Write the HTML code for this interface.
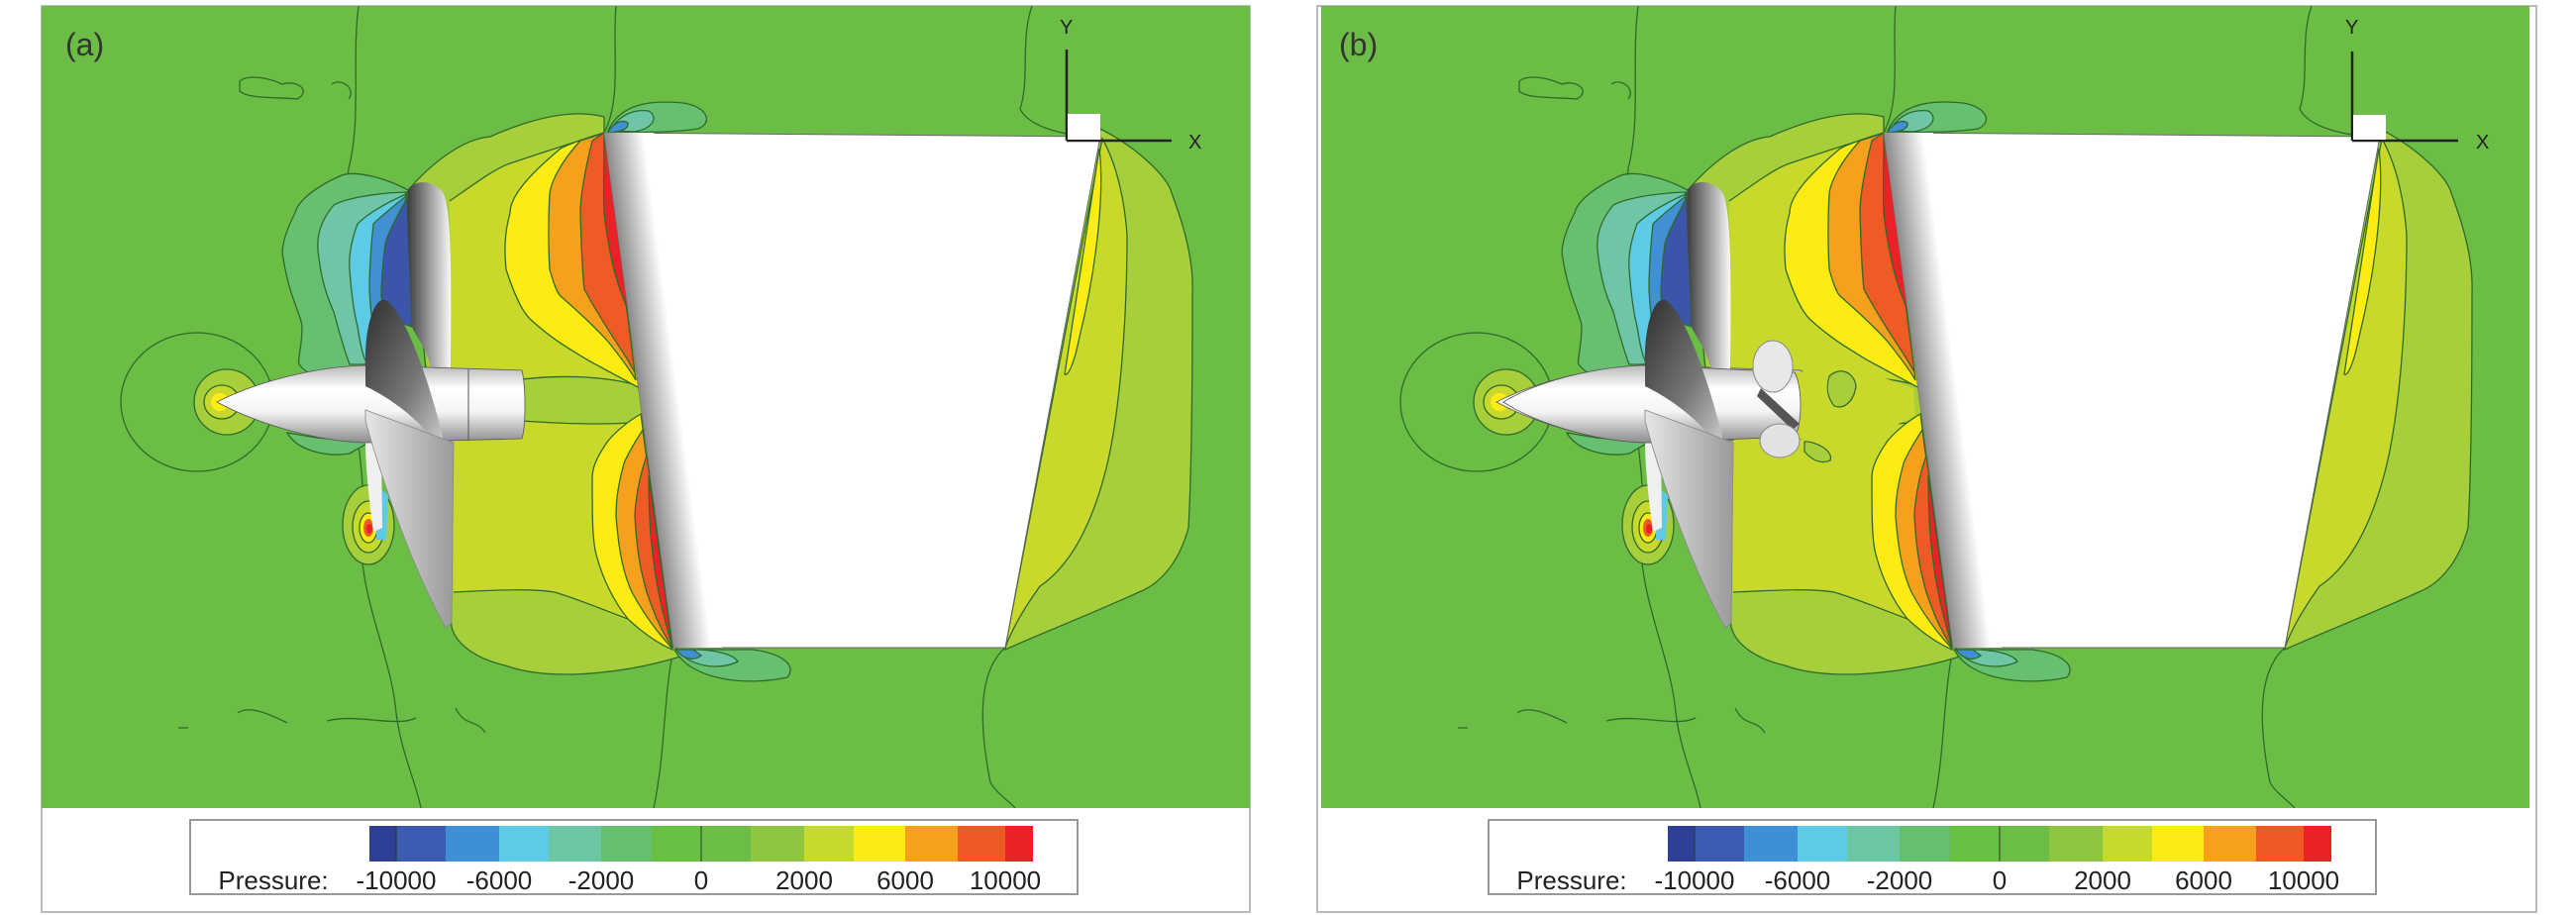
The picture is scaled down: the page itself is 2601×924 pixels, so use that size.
<!DOCTYPE html>
<html><head><meta charset="utf-8"><style>
html,body{margin:0;padding:0;background:#fff;}
svg{display:block;}
text{font-family:"Liberation Sans",Arial,sans-serif;}
</style></head><body>
<svg width="2601" height="924" viewBox="0 0 2601 924" xmlns="http://www.w3.org/2000/svg">
<defs>
<clipPath id="cp"><rect x="42" y="6" width="1220" height="810"/></clipPath>
<linearGradient id="edge" gradientUnits="userSpaceOnUse" x1="592" y1="0" x2="632" y2="0" gradientTransform="skewX(7.56)">
<stop offset="0" stop-color="#8a8a8a"/><stop offset="1" stop-color="#fff"/></linearGradient>
<linearGradient id="ub" x1="0" y1="0" x2="1" y2="0"><stop offset="0" stop-color="#3c3c3c"/><stop offset="0.5" stop-color="#9a9a9a"/><stop offset="1" stop-color="#fafafa"/></linearGradient>
<linearGradient id="db" x1="0" y1="0" x2="1" y2="1"><stop offset="0" stop-color="#2e2e2e"/><stop offset="0.6" stop-color="#777"/><stop offset="1" stop-color="#ccc"/></linearGradient>
<linearGradient id="hub" x1="0" y1="0" x2="0" y2="1"><stop offset="0" stop-color="#b8b8b8"/><stop offset="0.3" stop-color="#fff"/><stop offset="0.6" stop-color="#f4f4f4"/><stop offset="1" stop-color="#8c8c8c"/></linearGradient>
<linearGradient id="lb" x1="0" y1="0" x2="1" y2="0"><stop offset="0" stop-color="#e6e6e6"/><stop offset="1" stop-color="#9a9a9a"/></linearGradient>
<g id="plot" stroke="#2f6a2a" stroke-width="1.3">
<rect x="42" y="6" width="1220" height="810" fill="#6cbd45" stroke="none"/>
<g fill="none">
<path d="M362,6 C355,60 365,120 352,170 C345,230 372,300 362,360 C350,420 372,470 365,530 C360,600 395,660 400,720 C405,760 420,790 425,816"/>
<path d="M622,6 C618,50 628,100 610,134"/>
<path d="M680,656 C670,700 672,760 660,816"/>
<path d="M1042,6 C1030,40 1040,80 1030,110 C1040,130 1080,138 1111,138"/>
<path d="M1015,654 C985,680 990,740 1000,790 C1005,800 1020,810 1025,816"/>
<path d="M242,82 C250,75 270,78 285,85 C300,80 315,92 300,100 C280,98 250,100 242,92Z"/>
<path d="M335,85 C345,78 360,90 352,100"/>
<path d="M240,720 C250,712 270,720 290,730 M330,728 C360,720 400,735 420,725 M180,735 L190,735 M460,715 C470,735 480,725 490,740"/>
</g>
<path fill="#a6cf3b" d="M412,192 C440,160 470,140 495,138 C540,118 580,110 610,118 L610,134 L682,654 L690,662 C640,678 560,690 510,672 C480,665 460,650 456,633 Z"/>
<path fill="#c9d92c" stroke="none" d="M454,203 C480,185 500,170 515,165 C560,150 590,140 606,136 L679,640 C640,634 600,610 560,598 C520,596 480,598 458,598 Z"/>
<path fill="none" d="M454,203 C480,185 500,170 515,165 C560,150 590,140 606,136 M458,598 C500,596 535,594 560,598 C600,610 640,630 669,636"/>
<path fill="#a6cf3b" d="M527,383 C570,378 620,380 652,392 L657,425 C620,430 570,428 527,425 Z"/>
<path fill="#fdeb14" d="M610,134 C590,140 575,145 566,150 C530,180 515,200 515,215 C508,240 510,260 511,272 C520,300 528,315 535,322 C560,345 580,355 594,364 C620,378 635,386 646,392 Z"/>
<path fill="#f6a01e" d="M610,134 C600,138 592,140 586,142 C565,165 556,185 555,196 C553,230 554,255 555,272 C560,290 563,296 566,299 C590,320 605,335 614,345 C630,365 637,375 642,384 Z"/>
<path fill="#ee5b24" d="M610,134 L598,142 C590,175 586,200 586,215 C587,250 588,275 590,292 C610,330 630,355 641,376 Z"/>
<path fill="#ea2227" d="M610,134 C610,170 609,200 610,215 C614,250 620,275 626,292 C632,310 637,320 641,330 Z"/>
<path fill="#fdeb14" d="M647,418 C630,428 620,438 614,445 C600,465 598,475 598,483 C598,520 598,545 602,560 C610,590 622,610 634,625 C650,640 665,650 679,656 Z"/>
<path fill="#f6a01e" d="M649,434 C640,448 634,458 630,468 C624,490 622,505 622,521 C625,560 630,580 638,598 C650,620 665,640 678,654 Z"/>
<path fill="#ee5b24" d="M653,460 C646,480 642,500 641,521 C643,560 648,580 653,598 C662,625 670,640 679,654 Z"/>
<path fill="#ea2227" d="M655,480 C655,510 656,525 657,540 C660,575 665,600 669,617 L679,654 Z"/>
<path fill="#a6cf3b" d="M1111,130 C1150,150 1180,180 1183,195 C1200,240 1205,270 1204,296 C1204,400 1203,480 1200,533 C1190,570 1170,590 1150,598 C1090,625 1050,640 1015,656 Z"/>
<path fill="#c9d92c" d="M1113,140 C1130,170 1136,210 1138,237 C1138,330 1130,420 1117,473 C1100,540 1075,575 1050,592 C1030,620 1020,640 1015,654 Z"/>
<path fill="#fdeb14" d="M1110,150 C1116,200 1105,280 1090,340 C1084,370 1078,380 1075,378 Z"/>
<path fill="#66c070" d="M614,132 C625,108 650,100 690,104 C715,108 720,124 705,130 C680,134 650,133 614,134 Z"/>
<path fill="#6ec6a6" d="M616,132 C625,116 640,110 655,112 C665,118 660,130 640,133Z"/>
<path fill="#3f8fd6" d="M614,133 C620,124 628,120 634,124 C635,130 628,133 614,134Z"/>
<path fill="#66c070" d="M681,656 C700,690 760,692 795,684 C805,672 790,660 760,656 Z"/>
<path fill="#6ec6a6" d="M683,656 C700,676 730,676 745,668 C740,660 720,656 700,656 Z"/>
<path fill="#3f8fd6" d="M683,656 C690,666 700,668 708,662 L700,656Z"/>
<path fill="#66c070" d="M412,192 C390,180 360,172 345,177 C315,190 300,205 298,215 C285,240 284,255 286,261 C292,300 305,320 305,330 C305,350 300,365 302,368 C310,378 318,380 321,376 L369,370 Z"/>
<path fill="#6ec6a6" d="M410,194 C380,195 350,200 337,207 C322,225 320,240 321,253 C325,290 333,305 337,315 C345,345 350,360 353,368 L369,368 Z"/>
<path fill="#5dcbe6" d="M410,196 C390,205 372,215 361,226 C354,245 352,260 353,272 C355,300 358,318 361,330 C364,348 366,358 369,364 Z"/>
<path fill="#4290d4" d="M410,198 C395,210 383,220 377,226 C374,255 373,275 373,292 C374,310 375,322 377,330 L392,360 Z"/>
<path fill="#3b55a8" d="M411,200 C400,220 392,235 389,246 C386,270 385,285 385,299 C387,312 389,318 392,322 L416,330 Z"/>
<path fill="#66c070" d="M290,437 C300,455 330,462 353,458 L372,447 L320,442 Z"/>
<ellipse cx="199" cy="406" rx="77" ry="70" fill="none"/>
<ellipse cx="229" cy="406" rx="33" ry="33" fill="#a6cf3b"/>
<ellipse cx="224" cy="406" rx="18" ry="17" fill="#c9d92c"/>
<ellipse cx="222" cy="406" rx="9" ry="9" fill="#fdeb14" stroke="none"/>
<ellipse cx="372" cy="530" rx="26" ry="40" fill="#a6cf3b"/>
<ellipse cx="372" cy="532" rx="16" ry="26" fill="#c9d92c"/>
<ellipse cx="372" cy="533" rx="9" ry="15" fill="#fdeb14"/>
<ellipse cx="372" cy="533" rx="5" ry="9" fill="#ee5b24" stroke="none"/>
<ellipse cx="373" cy="534" rx="3" ry="5" fill="#ea2227" stroke="none"/>
<path fill="#5dcbe6" stroke="none" d="M380,490 L392,500 L390,545 L380,545Z"/>
<polygon points="610,134 1111,138 1015,654 680,654" fill="#fff" stroke="#666" stroke-width="1"/>
<polygon points="610,134 660,134 729,654 680,654" fill="url(#edge)" stroke="none"/>
<path fill="#f0f0f0" stroke="none" d="M369,445 L385,445 L386,533 L377,537 C372,500 369,470 369,445 Z"/>
<path fill="url(#ub)" stroke="none" d="M412,192 C418,180 440,182 448,196 C455,215 456,260 455,374 L436,374 C430,350 420,340 416,330 C414,280 410,220 412,192 Z"/>
<path fill="url(#hub)" stroke="#555" stroke-width="0.8" d="M219,406 C260,385 320,370 370,369 L527,374 C531,390 531,430 527,443 L370,447 C320,446 260,428 219,406 Z"/>
<line x1="473" y1="373" x2="473" y2="445" stroke="#555" stroke-width="1"/>
<path fill="url(#db)" stroke="none" d="M369,368 C368,330 378,300 389,303 C405,310 430,370 448,445 L440,447 C420,420 390,400 369,390 Z"/>
<path fill="url(#lb)" stroke="#888" stroke-width="0.8" d="M369,414 L458,447 L456,629 L450,634 C420,580 390,500 369,425 Z"/>
</g>
</defs>

<rect x="42" y="6" width="1220" height="915" fill="#fff" stroke="#bbb" stroke-width="2"/>
<g clip-path="url(#cp)"><use href="#plot"/></g>
<text x="66" y="56" font-size="32" fill="#333">(a)</text>
<g stroke="#222" stroke-width="2.5"><line x1="1077" y1="50" x2="1077" y2="142"/><line x1="1077" y1="142" x2="1183" y2="142"/></g>
<rect x="1078" y="115" width="33" height="26" fill="#fff"/>
<text x="1070" y="34" font-size="20" fill="#222">Y</text>
<text x="1200" y="150" font-size="20" fill="#222">X</text>

<rect x="1330" y="6" width="1231" height="915" fill="#fff" stroke="#bbb" stroke-width="2"/>
<g transform="translate(1292,0)">
<g clip-path="url(#cp)"><use href="#plot"/>
<path fill="#c9d92c" stroke="none" d="M459,374 L600,378 L640,392 L642,420 L600,440 L459,446Z"/>
<path fill="#a6cf3b" stroke="#2f6a2a" stroke-width="1.2" d="M555,380 C565,370 580,375 582,390 C580,405 570,414 560,410 C552,400 552,390 555,380Z"/>
<path fill="#a6cf3b" stroke="#2f6a2a" stroke-width="1.2" d="M530,446 C540,445 560,455 556,465 C545,470 535,462 530,456Z"/>
<path fill="url(#ub)" stroke="none" d="M412,192 C418,180 440,182 448,196 C455,215 456,260 455,374 L436,374 C430,350 420,340 416,330 C414,280 410,220 412,192 Z"/>
<path fill="url(#hub)" stroke="#555" stroke-width="0.8" d="M226,406 C260,385 320,370 370,369 L520,376 C528,390 528,430 520,441 L370,447 C320,446 260,428 226,406 Z"/>
<path fill="url(#db)" stroke="none" d="M369,368 C368,330 378,300 389,303 C405,310 430,370 448,445 L440,447 C420,420 390,400 369,390 Z"/>
<path fill="url(#lb)" stroke="#888" stroke-width="0.8" d="M369,414 L458,447 L456,629 L450,634 C420,580 390,500 369,425 Z"/>
<ellipse cx="498" cy="370" rx="20" ry="26" fill="#e8e8e8" stroke="#888"/>
<path d="M486,392 L525,428 L518,434 L482,400Z" fill="#555"/>
<ellipse cx="505" cy="445" rx="20" ry="17" fill="#e2e2e2" stroke="#888"/>
</g>
</g>
<text x="1352" y="56" font-size="32" fill="#333">(b)</text>
<g stroke="#222" stroke-width="2.5"><line x1="2375" y1="52" x2="2375" y2="142"/><line x1="2375" y1="142" x2="2482" y2="142"/></g>
<rect x="2376" y="116" width="33" height="25" fill="#fff"/>
<text x="2368" y="34" font-size="20" fill="#222">Y</text>
<text x="2500" y="150" font-size="20" fill="#222">X</text>

<g id="leg">
<rect x="192" y="828" width="896" height="75" fill="#fff" stroke="#999" stroke-width="2"/>
<rect x="373" y="834" width="27" height="36" fill="#2e3f96"/>
<rect x="400" y="834" width="50" height="36" fill="#3b5cb0"/>
<rect x="450" y="834" width="54" height="36" fill="#3f8fd6"/>
<rect x="504" y="834" width="50" height="36" fill="#5ccbe6"/>
<rect x="554" y="834" width="53" height="36" fill="#6cc6a2"/>
<rect x="607" y="834" width="51" height="36" fill="#64bf6e"/>
<rect x="658" y="834" width="50" height="36" fill="#6abf45"/>
<rect x="708" y="834" width="50" height="36" fill="#6cbd45"/>
<rect x="758" y="834" width="54" height="36" fill="#8dc63f"/>
<rect x="812" y="834" width="50" height="36" fill="#c6d92e"/>
<rect x="862" y="834" width="52" height="36" fill="#fbec14"/>
<rect x="914" y="834" width="53" height="36" fill="#f6a01e"/>
<rect x="967" y="834" width="48" height="36" fill="#ef5a24"/>
<rect x="1015" y="834" width="28" height="36" fill="#ea2126"/>
<g stroke="#2a3a2a" stroke-width="1"><line x1="400" y1="834" x2="400" y2="870"/><line x1="708" y1="834" x2="708" y2="870"/></g>
<g font-size="26" fill="#222" text-anchor="middle">
<text x="276" y="898">Pressure:</text>
<text x="400" y="898">-10000</text>
<text x="504" y="898">-6000</text>
<text x="607" y="898">-2000</text>
<text x="708" y="898">0</text>
<text x="812" y="898">2000</text>
<text x="914" y="898">6000</text>
<text x="1015" y="898">10000</text>
</g>
</g>
<use href="#leg" transform="translate(1311,0)"/>
</svg>
</body></html>
